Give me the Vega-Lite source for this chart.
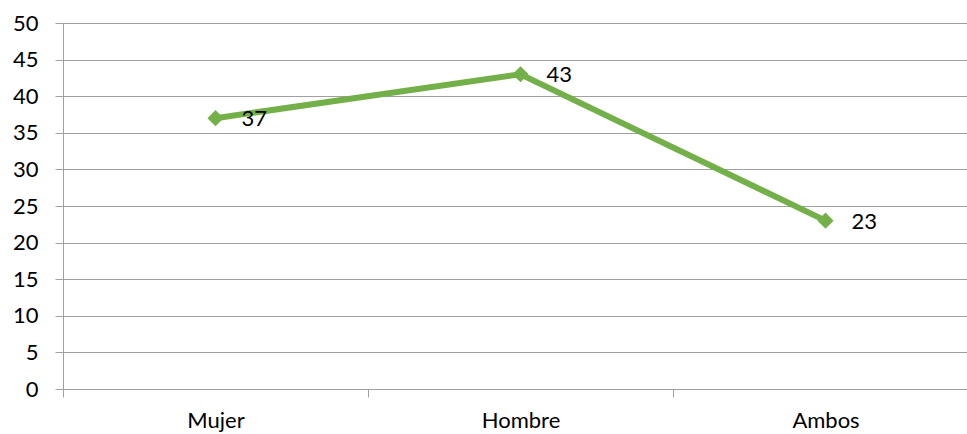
{
  "$schema": "https://vega.github.io/schema/vega-lite/v6.json",
  "width": 904,
  "height": 366,
  "autosize": {"type": "none"},
  "padding": {"left": 63, "top": 23, "right": 0, "bottom": 45},
  "background": "white",
  "config": {"view": {"stroke": null}, "font": "Lato"},
  "data": {"values": [
    {"cat": "Mujer", "v": 37},
    {"cat": "Hombre", "v": 43},
    {"cat": "Ambos", "v": 23}
  ]},
  "encoding": {
    "x": {"field": "cat", "type": "nominal", "sort": null,
      "scale": {"type": "band", "range": [0, 915], "paddingInner": 0, "paddingOuter": 0},
      "axis": {"title": null, "tickBand": "extent", "labelAngle": 0, "labelFontSize": 22, "labelColor": "#000", "labelFont": "Lato",
        "domainColor": "#a0a0a0", "tickColor": "#a0a0a0", "tickSize": 8, "labelPadding": 13, "grid": false}},
    "y": {"field": "v", "type": "quantitative",
      "scale": {"domain": [0, 50], "nice": false},
      "axis": {"title": null, "values": [0,5,10,15,20,25,30,35,40,45,50], "labelFontSize": 22, "labelColor": "#000", "labelFont": "Lato",
        "domainColor": "#a0a0a0", "tickColor": "#a0a0a0", "gridColor": "#a0a0a0", "tickSize": 8, "labelPadding": 17, "grid": true}}
  },
  "layer": [
    {"mark": {"type": "line", "color": "#74b04a", "strokeWidth": 6}},
    {"mark": {"type": "point", "shape": "diamond", "filled": true, "color": "#74b04a", "opacity": 1, "size": 260}},
    {"mark": {"type": "text", "align": "left", "baseline": "middle", "dx": 26, "dy": 1, "fontSize": 22, "font": "Lato", "color": "#000"},
      "encoding": {"text": {"field": "v", "type": "quantitative"}}}
  ]
}
